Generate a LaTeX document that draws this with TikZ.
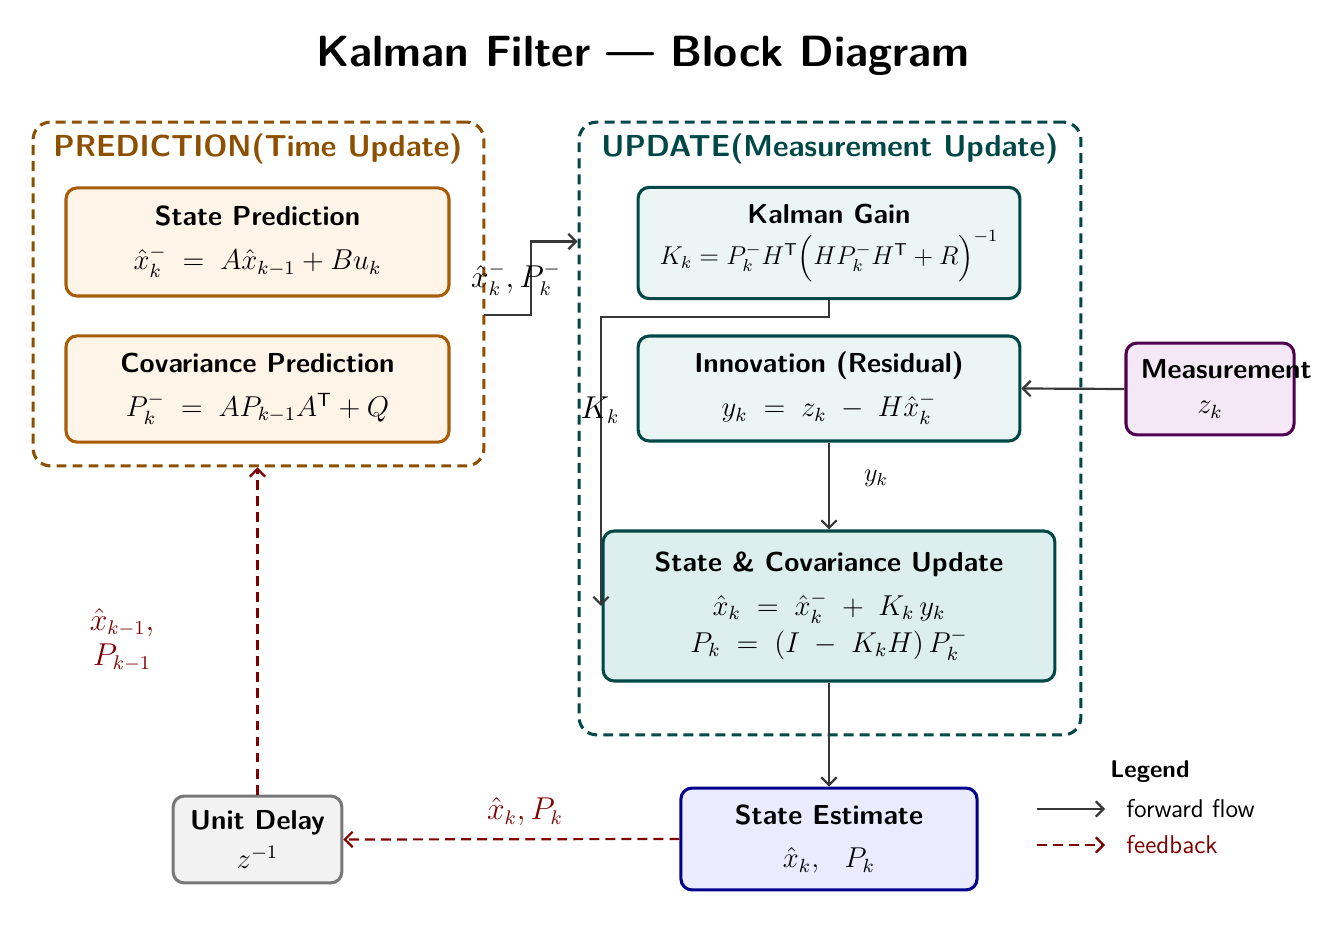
\documentclass[tikz,border=0pt]{standalone}
\usepackage{amsmath}
\usetikzlibrary{arrows.meta,calc}
\definecolor{predborder}{RGB}{168,92,8}
\definecolor{predfill}{RGB}{255,244,232}
\definecolor{predlabel}{RGB}{140,80,0}
\definecolor{updteal}{RGB}{0,72,72}
\definecolor{updfill}{RGB}{235,245,244}
\definecolor{scufill}{RGB}{220,238,238}
\definecolor{measborder}{RGB}{80,0,80}
\definecolor{measfill}{RGB}{244,232,246}
\definecolor{seborder}{RGB}{0,0,140}
\definecolor{sefill}{RGB}{235,235,255}
\definecolor{udborder}{RGB}{120,120,120}
\definecolor{udfill}{RGB}{242,242,242}
\definecolor{fbred}{RGB}{128,0,0}
\definecolor{flowgray}{RGB}{55,55,55}
\newcommand{\eqn}[1]{{\fontsize{12}{14}\selectfont\scalebox{1.09}{$#1$}}}
\newcommand{\lblsz}{\fontsize{13.5}{16}\selectfont}
\begin{document}
\begin{tikzpicture}[x=0.016cm,y=-0.016cm,
  blk/.style={draw, rounded corners=5pt, line width=1.4pt, align=center, font=\sffamily\fontsize{12.5}{15}\selectfont, inner sep=2pt},
  predblk/.style={blk, draw=predborder, fill=predfill, minimum width=6.13cm},
  updblk/.style={blk, draw=updteal, fill=updfill, minimum width=6.11cm},
  grp/.style={rounded corners=8pt, line width=1.4pt, dash pattern=on 4.5pt off 2.8pt},
  grplabel/.style={font=\sffamily\bfseries\Large, anchor=west, inner sep=0pt},
  flow/.style={draw=flowgray, line width=1pt, -{Straight Barb[length=3.5pt,width=7pt]}},
  fb/.style={draw=fbred, line width=1pt, dash pattern=on 4.5pt off 2.8pt, -{Straight Barb[length=3.5pt,width=7pt]}},
  elabel/.style={font=\lblsz, inner sep=1pt}
]
\useasboundingbox (0,0) rectangle (1327,925);

% title
\node[font=\sffamily\bfseries\fontsize{19.9}{24}\selectfont] (title) at (643,56) {Kalman Filter --- Block Diagram};

% groups
\node[grp, draw=predlabel, minimum width=7.216cm, minimum height=5.504cm] (predgrp) at (258.5,294) {};
\node[grplabel, text=predlabel] (predlab) at (53,149) {\scalebox{0.96}{PREDICTION(Time Update)}};
\node[grp, draw=updteal, minimum width=8.032cm, minimum height=9.808cm] (updgrp) at (830,428.5) {};
\node[grplabel, text=updteal] (updlab) at (601,149) {\scalebox{0.96}{UPDATE(Measurement Update)}};

% prediction blocks
\node[predblk, minimum height=1.73cm] (SP) at (257.5,242)
  {\textbf{State Prediction}\\[5pt] \eqn{\hat{x}_k^{-} \;=\; A\hat{x}_{k-1} + Bu_k}};
\node[predblk, minimum height=1.70cm] (CP) at (257.5,389)
  {\textbf{Covariance Prediction}\\[5pt] \eqn{P_k^{-} \;=\; AP_{k-1}A^{\mathsf{T}} + Q}};

% update blocks
\node[updblk, minimum height=1.78cm] (KG) at (829,243)
  {\textbf{Kalman Gain}\\[2pt] {\fontsize{12}{14}\selectfont\scalebox{0.98}{$K_k = P_k^{-} H^{\mathsf{T}} \Bigl(H P_k^{-} H^{\mathsf{T}} + R\Bigr)^{-1}$}}};
\node[updblk, minimum height=1.68cm] (INN) at (829,388.5)
  {\textbf{Innovation (Residual)}\\[5pt] \eqn{y_k \;=\; z_k \;-\; H\hat{x}_k^{-}}};
\node[blk, draw=updteal, fill=scufill, minimum width=7.23cm, minimum height=2.40cm] (SCU) at (829,606)
  {\textbf{State \& Covariance Update}\\[5pt] \eqn{\hat{x}_k \;=\; \hat{x}_k^{-} \;+\; K_k\, y_k}\\[2pt] \eqn{P_k \;=\; (I \;-\; K_k H)\, P_k^{-}}};

% measurement
\node[blk, draw=measborder, fill=measfill, minimum width=2.69cm, minimum height=1.47cm] (MEAS) at (1210,389)
  {\makebox[0pt][c]{\hspace*{0.52cm}\textbf{Measurement}}\\[1pt] \eqn{z_k}};

% state estimate
\node[blk, draw=seborder, fill=sefill, minimum width=4.74cm, minimum height=1.63cm] (SE) at (829,839)
  {\textbf{State Estimate}\\[5pt] \eqn{\hat{x}_k,\;\;\, P_k}};

% unit delay
\node[blk, draw=udborder, fill=udfill, minimum width=2.70cm, minimum height=1.39cm] (UD) at (257.5,839.5)
  {\textbf{Unit Delay}\\[3pt] \eqn{z^{-1}}};

% connectors
\coordinate (predout) at (484,315);
\coordinate (predmid) at (531,315);
\draw[flow] (predout) -- (predmid) |- (updgrp.west |- 0,241.5);
\node[elabel] (lab1) at (516,279) {$\hat{x}_k^{-}, P_k^{-}$};

\coordinate (kbend) at (601,317);
\draw[flow] (KG.south) |- (kbend) -- (kbend |- SCU.west);
\node[elabel] (lab2) at (600,410) {$K_k$};

\draw[flow] (INN.south) -- (SCU.north);
\node[inner sep=1pt, font=\fontsize{12}{14}\selectfont] (lab3) at (876,478) {$y_k$};

\draw[flow] (MEAS.west) -- (INN.east);
\draw[flow] (SCU.south) -- (SE.north);

\draw[fb] (SE.west) -- (UD.east);
\node[elabel, text=fbred] (lab4) at (525,812) {$\hat{x}_k, P_k$};

\draw[fb] (UD.north) -- (UD.north |- predgrp.south);
\node[elabel, text=fbred, align=center] (lab5) at (122,640) {$\hat{x}_{k-1},$\\$P_{k-1}$};

% legend
\node[font=\sffamily\bfseries\fontsize{11}{13}\selectfont] (leg) at (1150,772) {Legend};
\coordinate (l1a) at (1037,809);
\coordinate (l1b) at (1105,809);
\draw[flow] (l1a) -- (l1b);
\node[font=\sffamily\fontsize{11.7}{14}\selectfont, anchor=west, inner sep=0pt] (leg1) at (1126,809) {forward flow};
\coordinate (l2a) at (1037,845);
\coordinate (l2b) at (1105,845);
\draw[fb] (l2a) -- (l2b);
\node[font=\sffamily\fontsize{11.7}{14}\selectfont, anchor=west, inner sep=0pt, text=fbred] (leg2) at (1126,845) {feedback};
\end{tikzpicture}
\end{document}
